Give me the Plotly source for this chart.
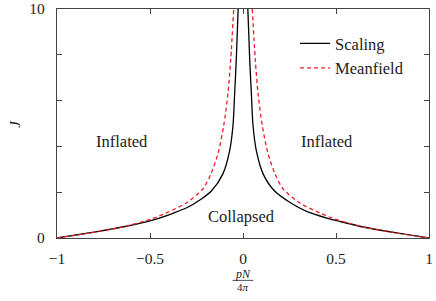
import plotly.graph_objects as go

# Scaling curve (black solid)
scal_x_left = [-1.0, -0.826, -0.731, -0.647, -0.516, -0.45, -0.373, -0.3, -0.23, -0.17, -0.108, -0.072, -0.054, -0.045, -0.036, -0.026]
scal_j_left = [0.0, 0.22, 0.36, 0.48, 0.72, 0.87, 1.09, 1.33, 1.67, 2.05, 2.8, 3.8, 4.9, 6.3, 7.8, 10.0]
scal_x_right = [0.026, 0.036, 0.045, 0.054, 0.072, 0.108, 0.17, 0.253, 0.342, 0.45, 0.522, 0.647, 0.826, 1.0]
scal_j_right = [10.0, 7.8, 6.3, 4.9, 3.8, 2.8, 2.05, 1.55, 1.16, 0.87, 0.72, 0.48, 0.22, 0.0]

# Meanfield curve (red dashed)
mf_x_left = [-1.0, -0.826, -0.647, -0.486, -0.414, -0.306, -0.215, -0.17, -0.134, -0.104, -0.081, -0.066, -0.05]
mf_j_left = [0.0, 0.22, 0.48, 0.85, 1.09, 1.53, 2.15, 2.85, 3.7, 4.9, 6.3, 7.8, 10.0]
mf_x_right = [0.05, 0.066, 0.081, 0.104, 0.134, 0.17, 0.215, 0.306, 0.414, 0.486, 0.647, 0.826, 1.0]
mf_j_right = [10.0, 7.8, 6.3, 4.9, 3.7, 2.85, 2.15, 1.53, 1.09, 0.85, 0.48, 0.22, 0.0]

x_ticks = [-1, -0.5, 0, 0.5, 1]
x_tick_labels = ["\u22121", "\u22120.5", "0", "0.5", "1"]
y_ticks = [0, 2, 4, 6, 8, 10]
y_tick_labels = ["0", "", "", "", "", "10"]

region_labels = ["Inflated", "Inflated", "Collapsed"]
region_x = [-0.65, 0.45, -0.01]
region_y = [4.2, 4.2, 0.94]

FONT = "Liberation Serif"
TXT = "#222222"

fig = go.Figure()
fig.add_trace(go.Scatter(
    x=scal_x_left + [None] + scal_x_right,
    y=scal_j_left + [None] + scal_j_right,
    mode="lines", name="Scaling",
    line=dict(color="black", width=1.3, shape="spline", smoothing=0.8),
    connectgaps=False,
))
fig.add_trace(go.Scatter(
    x=mf_x_left + [None] + mf_x_right,
    y=mf_j_left + [None] + mf_j_right,
    mode="lines", name="Meanfield",
    line=dict(color="#ee1c25", width=1.3, dash="4px,3px", shape="spline", smoothing=0.8),
    connectgaps=False,
))

for t, xx, yy in zip(region_labels, region_x, region_y):
    fig.add_annotation(x=xx, y=yy, text=t, showarrow=False,
                       font=dict(family=FONT, size=16.5, color=TXT))

# y-axis title
fig.add_annotation(xref="paper", yref="paper", x=-0.115, y=0.5, text="<i>J</i>",
                   showarrow=False, textangle=-90, xanchor="center", yanchor="middle",
                   font=dict(family=FONT, size=15, color=TXT))
# x-axis title as a fraction
fig.add_annotation(xref="paper", yref="paper", x=0.5, y=-0.158, text="<i>pN</i>",
                   showarrow=False, xanchor="center", yanchor="middle",
                   font=dict(family=FONT, size=12, color=TXT))
fig.add_annotation(xref="paper", yref="paper", x=0.5, y=-0.215, text="4<i>\u03c0</i>",
                   showarrow=False, xanchor="center", yanchor="middle",
                   font=dict(family=FONT, size=11, color=TXT))
fig.add_shape(type="line", xref="paper", yref="paper", x0=0.472, x1=0.528,
              y0=-0.185, y1=-0.185, line=dict(color=TXT, width=0.8))

axis_common = dict(showgrid=False, zeroline=False, showline=True, mirror="ticks",
                   linecolor="#444444", linewidth=1.3, ticks="inside", ticklen=5,
                   tickwidth=1, tickcolor="#444444", automargin=False,
                   tickfont=dict(family=FONT, size=15.5, color=TXT))

fig.update_xaxes(range=[-1, 1], tickvals=x_ticks, ticktext=x_tick_labels,
                 ticklabelstandoff=6, ticklabeloverflow="allow", **axis_common)
fig.update_yaxes(range=[0, 10], tickvals=y_ticks, ticktext=y_tick_labels,
                 ticklabelstandoff=8, ticklabeloverflow="allow", **axis_common)

fig.update_layout(
    width=436, height=301,
    margin=dict(l=57, r=7, t=9, b=63, autoexpand=False),
    paper_bgcolor="white", plot_bgcolor="white",
    showlegend=True,
    legend=dict(x=0.64, y=0.925, xanchor="left", yanchor="top",
                bgcolor="rgba(0,0,0,0)", font=dict(family=FONT, size=16.5, color=TXT),
                itemwidth=30),
)

fig.write_html("out.html", config={"displayModeBar": False},
               post_script="document.body.style.margin='0';document.body.style.padding='0';")
